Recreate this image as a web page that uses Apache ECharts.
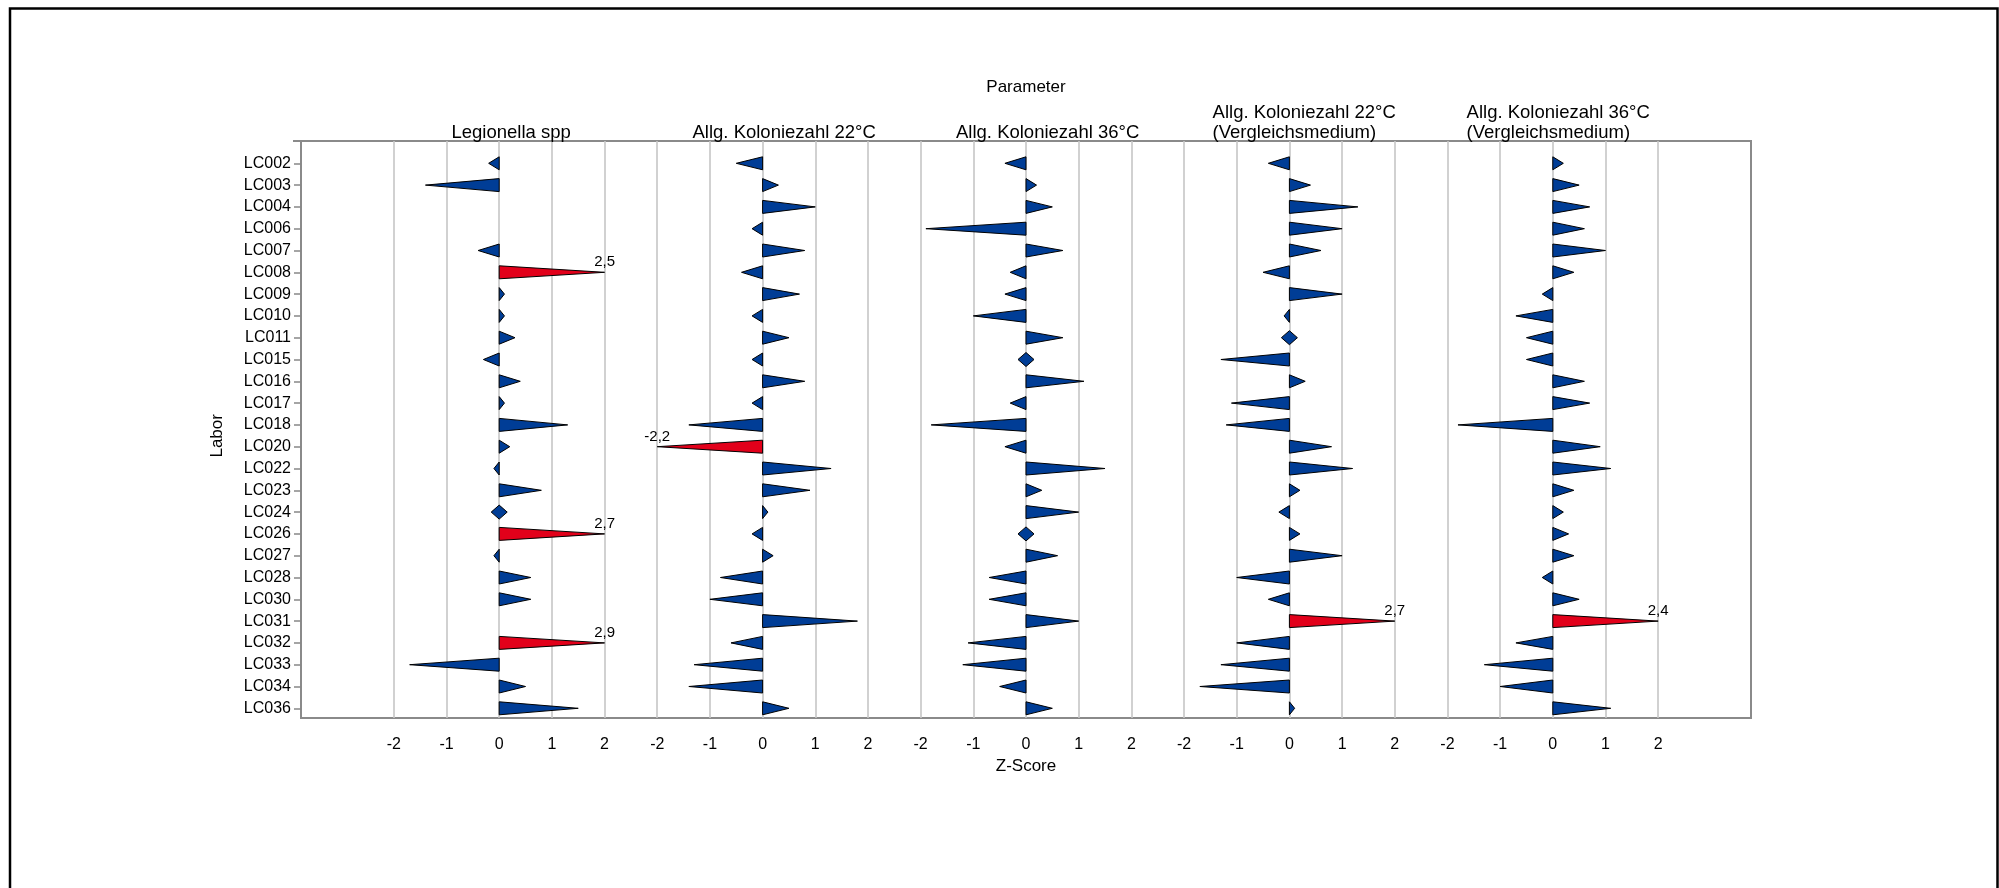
<!DOCTYPE html>
<html>
<head>
<meta charset="utf-8">
<script src="https://cdn.jsdelivr.net/npm/echarts@6/dist/echarts.min.js"></script>
<style>
html,body{margin:0;padding:0;background:#fff;}
#chart{width:1999px;height:888px;}
</style>
</head>
<body>
<div id="chart"></div>
<script>
// ---------- data ----------
const categories = ['LC002','LC003','LC004','LC006','LC007','LC008','LC009','LC010','LC011','LC015','LC016','LC017','LC018','LC020','LC022','LC023','LC024','LC026','LC027','LC028','LC030','LC031','LC032','LC033','LC034','LC036'];
const panelTitles = ['Legionella spp','Allg. Koloniezahl 22°C','Allg. Koloniezahl 36°C','Allg. Koloniezahl 22°C\n(Vergleichsmedium)','Allg. Koloniezahl 36°C\n(Vergleichsmedium)'];
const legionella = [-0.2,-1.4,null,null,-0.4,2.5,0.1,0.1,0.3,-0.3,0.4,0.1,1.3,0.2,-0.1,0.8,0,2.7,-0.1,0.6,0.6,null,2.9,-1.7,0.5,1.5];
const kz22 = [-0.5,0.3,1.0,-0.2,0.8,-0.4,0.7,-0.2,0.5,-0.2,0.8,-0.2,-1.4,-2.2,1.3,0.9,0.1,-0.2,0.2,-0.8,-1.0,1.8,-0.6,-1.3,-1.4,0.5];
const kz36 = [-0.4,0.2,0.5,-1.9,0.7,-0.3,-0.4,-1.0,0.7,0,1.1,-0.3,-1.8,-0.4,1.5,0.3,1.0,0,0.6,-0.7,-0.7,1.0,-1.1,-1.2,-0.5,0.5];
const kz22v = [-0.4,0.4,1.3,1.0,0.6,-0.5,1.0,-0.1,0,-1.3,0.3,-1.1,-1.2,0.8,1.2,0.2,-0.2,0.2,1.0,-1.0,-0.4,2.7,-1.0,-1.3,-1.7,0.1];
const kz36v = [0.2,0.5,0.7,0.6,1.0,0.4,-0.2,-0.7,-0.5,-0.5,0.6,0.7,-1.8,0.9,1.1,0.4,0.2,0.3,0.4,-0.2,0.5,2.4,-0.7,-1.3,-1.0,1.1];
const xTicksMin = -2, xTicksMax = 2, xTickStep = 1;
const panels = [legionella, kz22, kz36, kz22v, kz36v];

// ---------- layout / style ----------
const FONT = "'Liberation Sans', Arial, Helvetica, sans-serif";
const BLUE = '#003d96', RED = '#e2001a';
const plotLeft = 301, plotTop = 141, plotW = 1450, plotH = 577;
const unit = 52.68, span = 5 * unit;
const pad = (plotW - 5 * span) / 2;
const zeroX = i => plotLeft + pad + span / 2 + i * span;
const rowTop = 163.3, rowBottom = 708.3;
const titleLeft = [451.5, 692.5, 956, 1212.6, 1466.6];

const fmt = v => v.toFixed(1).replace('.', ',');

function renderItem(params, api) {
  const v = api.value(0), j = api.value(1);
  if (v === null || v === undefined || isNaN(v)) return;
  const c0 = api.coord([0, j]);
  const cv = api.coord([Math.max(xTicksMin, Math.min(xTicksMax, v)), j]);
  const out = Math.abs(v) > xTicksMax;
  let pts;
  if (v === 0) {
    pts = [[c0[0] - 8, c0[1]], [c0[0], c0[1] - 7], [c0[0] + 8, c0[1]], [c0[0], c0[1] + 7]];
  } else {
    pts = [[c0[0], c0[1] - 6.5], [c0[0], c0[1] + 6.5], [cv[0], c0[1]]];
  }
  const children = [{
    type: 'polygon', shape: { points: pts },
    style: { fill: out ? RED : BLUE, stroke: '#000', lineWidth: 1 }
  }];
  if (out) {
    children.push({
      type: 'text',
      style: { text: fmt(v), x: cv[0], y: c0[1] - 10, textAlign: 'center', textVerticalAlign: 'middle',
               fill: '#000', font: '15px ' + FONT }
    });
  }
  return { type: 'group', children };
}

// grid 0: frame
const grid = [{ left: plotLeft, top: plotTop, width: plotW, height: plotH, show: true,
                borderColor: '#8a8a8a', borderWidth: 2, backgroundColor: 'transparent' }];
const xAxis = [{ gridIndex: 0, type: 'value', show: false }];
const yAxis = [{
  gridIndex: 0, type: 'category', data: ['', ''], inverse: true, boundaryGap: false,
  axisLine: { show: false }, axisLabel: { show: false }, splitLine: { show: false },
  axisTick: { show: true, length: 8, interval: (idx) => idx === 0, lineStyle: { color: '#8a8a8a', width: 2 } }
}];
const series = [];
const title = [{
  text: 'Parameter', left: 1026, top: 78.5, padding: 0, textAlign: 'center', textVerticalAlign: 'top',
  textStyle: { fontFamily: FONT, fontSize: 17, fontWeight: 'normal', color: '#000' }
}];

// grids 1..5: background (split lines + tick labels)
for (let i = 0; i < 5; i++) {
  grid.push({ left: zeroX(i) - 2 * unit, width: 4 * unit, top: plotTop, height: plotH });
  xAxis.push({
    gridIndex: i + 1, type: 'value', min: xTicksMin, max: xTicksMax, interval: xTickStep,
    axisLine: { show: false }, axisTick: { show: false },
    splitLine: { show: true, lineStyle: { color: '#c6c6c6', width: 1.6 } },
    axisLabel: { show: true, margin: 18.5, color: '#000', fontSize: 16, fontFamily: FONT },
    name: i === 2 ? 'Z-Score' : '', nameLocation: 'middle', nameGap: 37.5,
    nameTextStyle: { color: '#000', fontSize: 17, fontFamily: FONT }
  });
  yAxis.push({ gridIndex: i + 1, type: 'value', show: false });
}
// grids 6..10: data
for (let i = 0; i < 5; i++) {
  grid.push({ left: zeroX(i) - 2 * unit, width: 4 * unit, top: rowTop, height: rowBottom - rowTop });
  xAxis.push({ gridIndex: i + 6, type: 'value', min: xTicksMin, max: xTicksMax, interval: xTickStep, show: false });
  yAxis.push({ gridIndex: i + 6, type: 'category', data: categories, inverse: true, boundaryGap: false, show: false });
  series.push({
    type: 'custom', name: panelTitles[i].replace('\n', ' '), coordinateSystem: 'cartesian2d',
    xAxisIndex: i + 6, yAxisIndex: i + 6, clip: false,
    encode: { x: 0, y: 1 },
    data: panels[i].map((v, j) => [v === null ? '-' : v, j]),
    renderItem
  });
  title.push({
    text: panelTitles[i], left: titleLeft[i], top: i < 3 ? 122.5 : 102.5, padding: 0,
    textAlign: 'left', textVerticalAlign: 'top',
    textStyle: { fontFamily: FONT, fontSize: 18.5, fontWeight: 'normal', color: '#000', lineHeight: 20 }
  });
}
// grid 11: category labels axis ("Labor") sitting on the frame's left edge
grid.push({ left: plotLeft, width: 100, top: rowTop, height: rowBottom - rowTop });
xAxis.push({ gridIndex: 11, type: 'value', show: false });
yAxis.push({
  gridIndex: 11, type: 'category', data: categories, inverse: true, boundaryGap: false,
  axisLine: { show: false },
  axisTick: { show: true, length: 7, lineStyle: { color: '#888', width: 1.5 } },
  axisLabel: { show: true, margin: 10, color: '#000', fontSize: 16, fontFamily: FONT },
  splitLine: { show: false },
  name: 'Labor', nameLocation: 'middle', nameGap: 75,
  nameTextStyle: { color: '#000', fontSize: 17, fontFamily: FONT }
});

const chart = echarts.init(document.getElementById('chart'), null, { renderer: 'canvas' });
chart.setOption({
  backgroundColor: '#fff',
  animation: false,
  title, grid, xAxis, yAxis, series,
  graphic: [{
    type: 'rect', left: 7.5, top: 6, shape: { x: 0, y: 0, width: 1987.5, height: 900 },
    style: { fill: 'none', stroke: '#000', lineWidth: 2.5 }, silent: true
  }]
});
</script>
</body>
</html>
